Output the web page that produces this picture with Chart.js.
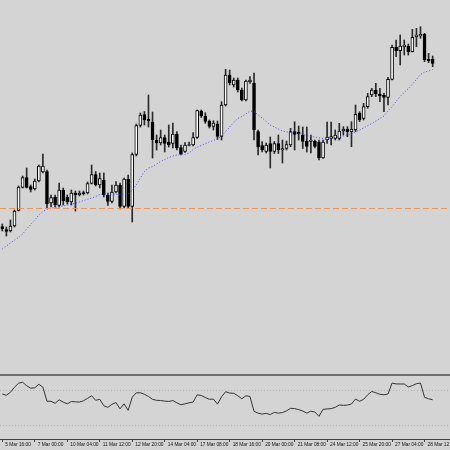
<!DOCTYPE html>
<html>
<head>
<meta charset="utf-8">
<script src="https://cdn.jsdelivr.net/npm/chart.js@4.4.1/dist/chart.umd.min.js"></script>
<style>
  html, body { margin: 0; padding: 0; background: #d4d4d4; }
  #wrap { position: relative; width: 450px; height: 450px; overflow: hidden; background: #d4d4d4; }
  #main { position: absolute; left: 0; top: 0; }
  #sep { position: absolute; left: 0; top: 374px; width: 450px; height: 2px; background: #6e6e6e; }
  #sub { position: absolute; left: 0; top: 376px; }
</style>
</head>
<body>
<div id="wrap">
  <canvas id="main" width="450" height="374"></canvas>
  <div id="sep"></div>
  <canvas id="sub" width="450" height="74"></canvas>
</div>
<script>
// H4 candles, index 0 = 5 Mar 16:00
var opens = [173.3, 170.5, 169, 174, 189.5, 212.5, 222.5, 213.5, 211, 219,
  228, 228.5, 197, 203, 194.5, 210, 203, 198, 207, 205,
  207.5, 207, 216.5, 225.5, 215, 220, 205, 198.5, 208, 215,
  193.5, 221, 193.5, 245.5, 274.5, 285.5, 281, 278, 260, 257,
  262.5, 258, 256.5, 266, 252.5, 248.5, 254.5, 255, 262.5, 289,
  284, 279, 273.5, 276, 263.5, 295, 325, 315, 320, 310,
  300, 318, 317, 268.5, 254.5, 248.5, 256.5, 248.5, 256.5, 250,
  251.5, 255, 268.3, 268, 265, 259, 258.5, 259, 258, 242,
  260, 261.5, 261.7, 261.7, 269, 270.7, 268.3, 270, 286.7, 281.7,
  293.3, 305, 310, 306, 304.7, 302.7, 320.7, 352.7, 349.3, 353.3,
  354, 348.3, 363.3, 364, 365.7, 340.7, 340.7];
var highs = [176, 173, 180, 190, 214, 224, 232, 215, 221, 235,
  246, 230, 205, 205, 217, 212, 205, 210, 209, 209,
  209, 218, 235, 228.5, 227, 227, 207, 215, 218.5, 217,
  222, 225, 247, 276, 287, 288.5, 305, 288, 265, 270,
  265, 275, 277, 268.5, 255, 257.5, 258, 267.3, 290, 290,
  287.3, 280, 279.3, 279, 298.3, 330.7, 330, 322, 322, 312,
  320, 323.3, 327, 270, 258.3, 257, 263, 258.5, 265, 260,
  259, 271.7, 278.3, 274, 273, 273, 265, 260, 260, 260,
  278, 278, 270, 276.7, 273.3, 273.3, 278.3, 295, 288.3, 296.7,
  306.7, 311.7, 316.7, 311.7, 306.7, 322.7, 355, 360, 365, 360,
  356, 370.7, 371.7, 373.3, 366.7, 346.7, 344];
var lows = [169, 164, 168, 173, 189, 212, 212, 208, 210, 218,
  227, 192, 193, 193, 193, 195, 196, 195, 189, 204,
  205, 206, 216, 214, 212, 203, 194.5, 197, 207, 191,
  192, 192, 178, 244, 273, 275, 273, 242, 250, 255,
  248, 253, 252, 250, 245, 247.5, 254, 254, 261.5, 282.5,
  276.7, 272, 270, 260.5, 260, 294, 315, 313, 308, 299,
  299, 316.7, 260, 245, 248, 247, 232, 246.5, 246.5, 237,
  250, 253.3, 250, 260, 251.5, 248, 247, 252, 240, 241.5,
  256.7, 255, 260, 260, 265, 263.3, 253.3, 268.3, 278.3, 280,
  291.7, 303.3, 303.3, 298.3, 288.3, 295, 320, 343.3, 335, 345,
  345, 348, 353.3, 361.7, 338.3, 337.3, 333.3];
var closes = [171, 168.5, 174, 189, 213, 222.5, 212.5, 210.5, 219, 234,
  234, 196, 202.5, 195, 210, 199, 198, 207, 205, 207,
  206, 216.5, 225.5, 215, 221.5, 205, 198.5, 208, 215, 193.5,
  221, 193.5, 245.5, 274.3, 285, 280, 279, 260, 257, 262.5,
  256.5, 255, 266, 252, 246, 255, 255.5, 262.5, 289.3, 284,
  278.5, 273.5, 277, 263.5, 295, 325, 317, 320, 310, 300,
  319, 320, 270, 253, 250, 255, 248.5, 256.5, 250, 251.5,
  255.5, 268.3, 265.7, 266, 258.5, 253.5, 260, 253.5, 242, 258,
  263, 263.3, 265, 269, 271, 268.3, 271, 285.7, 280, 293.3,
  303.3, 310, 306, 304, 302.7, 320.7, 352.7, 349.3, 354, 355,
  348.3, 362.7, 365, 365.7, 340, 339.3, 336.7];
// moving average (blue dotted)
var maValues = [151, 154, 157, 160, 162.5, 166, 171, 175.5, 180, 185,
  188.5, 190.7, 191.8, 192.5, 193.2, 194, 195, 195.7, 196.8, 198,
  199.5, 200.7, 202, 203.5, 205.5, 206.2, 206, 205.7, 205.7, 205.7,
  205.8, 206.3, 210, 215, 222, 228.5, 232, 233.5, 236, 238.5,
  240.5, 242.5, 244, 245, 245.7, 245.7, 247, 250.5, 252.8, 254.5,
  256.5, 258, 259.5, 261, 264, 268.5, 273, 277.5, 281.5, 283.5,
  286, 289, 288.5, 285, 282, 278.5, 275, 273, 271, 269,
  268.2, 267.5, 267, 266.7, 265.7, 264.5, 263.8, 263, 262.2, 261.7,
  261.7, 262, 262.5, 263, 264, 265, 266, 268, 270, 272,
  274.5, 276.5, 279, 281.5, 284, 289, 293.5, 298.5, 303.5, 307.5,
  311.5, 316, 320.5, 325.5, 328, 329, 330.5];
// oscillator in the lower window
var rsiValues = [66.2, 64.9, 68.3, 74.0, 78.6, 79.7, 75.7, 72.9, 73.4, 77.4,
  74.0, 58.0, 58.0, 55.7, 59.7, 57.1, 55.1, 57.8, 57.4, 57.1,
  58.6, 61.4, 64.3, 59.1, 60.3, 52.9, 51.1, 54.6, 56.6, 49.4,
  55.1, 47.7, 62.6, 67.7, 67.7, 66.0, 63.5, 60.3, 59.1, 58.9,
  58.2, 57.8, 58.9, 56.3, 54.0, 55.1, 56.3, 57.1, 65.4, 64.6,
  62.3, 60.3, 60.5, 54.8, 63.1, 68.9, 67.4, 67.1, 64.3, 60.9,
  64.3, 63.5, 46.6, 44.5, 43.4, 44.3, 42.8, 45.4, 44.5, 45.2,
  47.1, 50.0, 49.7, 48.5, 46.9, 44.6, 46.8, 45.8, 40.9, 48.9,
  49.3, 49.7, 51.1, 53.8, 53.4, 53.7, 54.9, 60.6, 58.0, 60.3,
  65.4, 69.2, 67.7, 66.0, 65.4, 66.3, 78.8, 77.8, 77.7, 77.7,
  74.3, 75.9, 78.0, 78.8, 62.6, 60.9, 59.7];
var tickLabels = ['5 Mar 16:00', '7 Mar 00:00', '10 Mar 04:00', '11 Mar 12:00', '12 Mar 20:00',
  '14 Mar 04:00', '17 Mar 08:00', '18 Mar 16:00', '20 Mar 00:00', '21 Mar 08:00',
  '24 Mar 12:00', '25 Mar 20:00', '27 Mar 04:00', '28 Mar 12:00'];
var tickEvery = 8;
var levelPrice = 192;
var rsiLevels = [30, 70];

var xMin = -0.57, xMax = 110.27;

var wickData = [], bodyData = [], bodyFill = [], maData = [], rsiData = [];
for (var i = 0; i < opens.length; i++) {
  wickData.push({x: i, y: [lows[i], highs[i]]});
  bodyData.push({x: i, y: [opens[i], closes[i]]});
  bodyFill.push(closes[i] >= opens[i] ? '#ffffff' : '#000000');
  maData.push({x: i, y: maValues[i]});
  rsiData.push({x: i, y: rsiValues[i]});
}

new Chart(document.getElementById('main'), {
  type: 'bar',
  data: {
    datasets: [{
      type: 'line',
      data: maData,
      borderColor: '#4646ff',
      borderWidth: 1,
      borderDash: [1, 2],
      pointRadius: 0,
      tension: 0,
      order: 0
    }, {
      data: bodyData,
      backgroundColor: bodyFill,
      borderColor: '#000000',
      borderWidth: 1,
      borderSkipped: false,
      barThickness: 3,
      grouped: false,
      order: 1
    }, {
      data: wickData,
      backgroundColor: '#2a2a2a',
      barThickness: 1,
      grouped: false,
      order: 2
    }]
  },
  options: {
    responsive: false,
    animation: false,
    layout: { padding: 0 },
    plugins: { legend: { display: false }, tooltip: { enabled: false } },
    scales: {
      x: { type: 'linear', min: xMin, max: xMax, display: false, offset: false },
      y: {
        min: 26, max: 400,
        afterBuildTicks: function (s) { s.ticks = [{ value: levelPrice }]; },
        afterFit: function (s) { s.width = 0; },
        ticks: { display: false },
        grid: { color: '#e8965a', lineWidth: 1, drawTicks: false, z: 1 },
        border: { display: false, dash: [6, 3] }
      }
    }
  }
});

new Chart(document.getElementById('sub'), {
  type: 'line',
  data: {
    datasets: [{
      data: rsiData,
      borderColor: '#333333',
      borderWidth: 1,
      pointRadius: 0,
      tension: 0
    }]
  },
  options: {
    responsive: false,
    animation: false,
    layout: { padding: 0 },
    plugins: { legend: { display: false }, tooltip: { enabled: false } },
    scales: {
      x: {
        type: 'linear', min: xMin, max: xMax, offset: false,
        afterBuildTicks: function (s) {
          s.ticks = tickLabels.map(function (t, k) { return { value: k * tickEvery }; });
        },
        afterFit: function (s) { s.height = 11; s.paddingLeft = 0; s.paddingRight = 0; },
        grid: { drawOnChartArea: false, drawTicks: true, tickLength: 3, color: '#404040', offset: false },
        border: { display: true, color: '#404040' },
        ticks: {
          autoSkip: false, maxRotation: 0, minRotation: 0,
          align: 'start', labelOffset: 3, padding: 0,
          color: '#111111',
          font: { family: 'Liberation Sans', size: 4.8 },
          callback: function (v, k) { return tickLabels[k]; }
        }
      },
      y: {
        min: 15.1, max: 86.8,
        afterBuildTicks: function (s) { s.ticks = rsiLevels.map(function (v) { return { value: v }; }); },
        afterFit: function (s) { s.width = 0; },
        ticks: { display: false },
        grid: { color: '#b4b4b4', drawTicks: false },
        border: { display: false, dash: [1, 2] }
      }
    }
  }
});
</script>
</body>
</html>
